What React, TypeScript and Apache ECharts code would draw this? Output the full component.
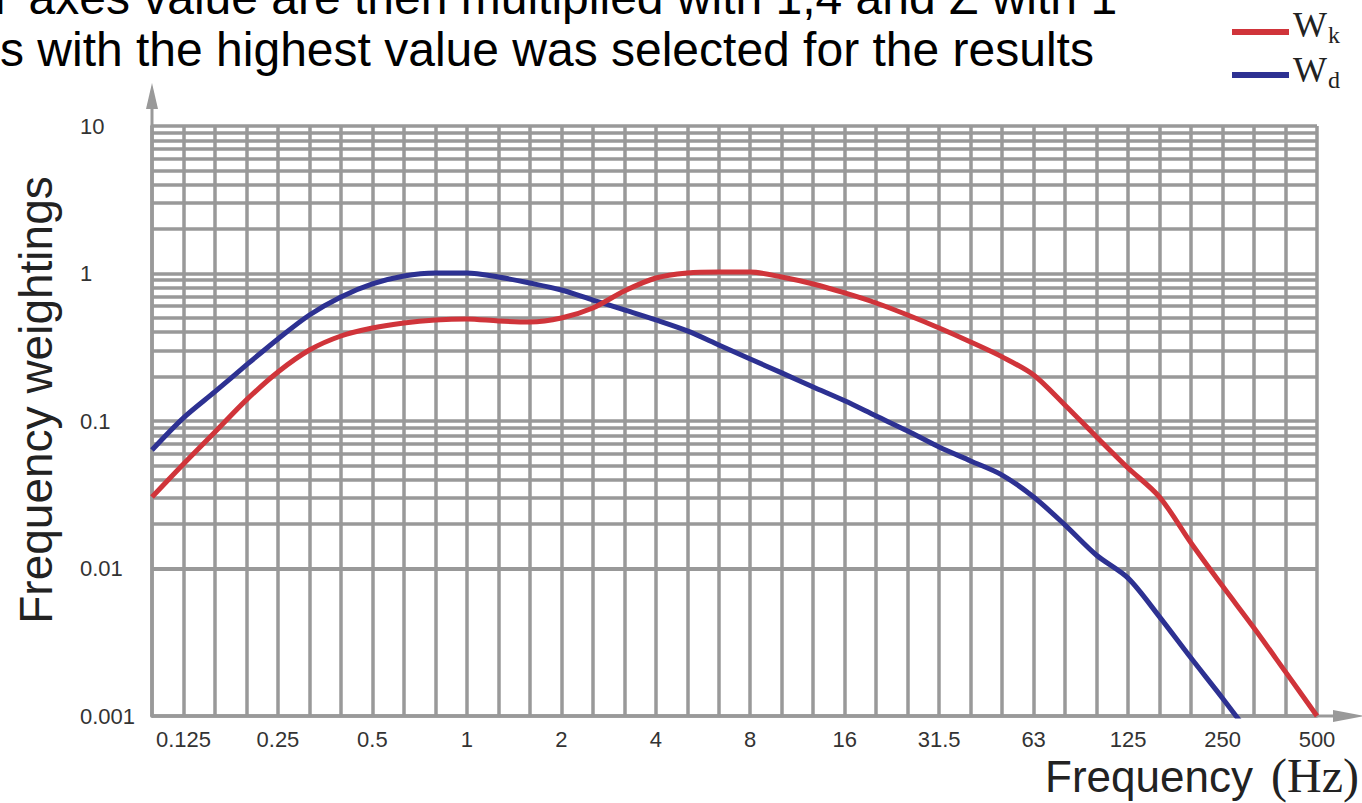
import React, { useEffect, useRef } from "react";
import * as echarts from "echarts";

// 1/3-octave band centre frequencies (Hz)
const bands = ["0.1","0.125","0.16","0.2","0.25","0.315","0.4","0.5","0.63","0.8","1","1.25","1.6","2","2.5","3.15","4","5","6.3","8","10","12.5","16","20","25","31.5","40","50","63","80","100","125","160","200","250","315","400","500"];

// Frequency weighting Wk (red)
const wk = [0.0305, 0.0511, 0.0842, 0.139, 0.215, 0.303, 0.377, 0.427, 0.462, 0.484, 0.492, 0.476, 0.469, 0.499, 0.584, 0.761, 0.932, 1.008, 1.024, 1.024, 0.947, 0.849, 0.738, 0.631, 0.523, 0.427, 0.343, 0.272, 0.205, 0.128, 0.078, 0.048, 0.0305, 0.0149, 0.0076, 0.00395, 0.00199, 0.001];

// Frequency weighting Wd (blue)
const wd = [0.0636, 0.105, 0.158, 0.24, 0.36, 0.523, 0.693, 0.849, 0.962, 1.008, 1.008, 0.947, 0.862, 0.773, 0.661, 0.566, 0.484, 0.408, 0.328, 0.263, 0.212, 0.17, 0.137, 0.108, 0.0855, 0.0666, 0.0536, 0.043, 0.0305, 0.0197, 0.0123, 0.0086, 0.0047, 0.00247, 0.00132, 0.00069, null, null];

const yTickLabels = ["0.001", "0.01", "0.1", "1", "10"];
const minorDecades = [0.001, 0.01, 0.1, 1];
const minorMultipliers = [2, 3, 4, 5, 6, 7, 8, 9];

const headerLine1 = "Y axes value are then multiplied with 1,4 and Z with 1";
const headerLine2 = "s with the highest value was selected for the results";

const SANS = "'Liberation Sans', Arial, Helvetica, sans-serif";
const SERIF = "'Liberation Serif', 'Times New Roman', serif";
const GRID = "#999999";
const RED = "#d0343a";
const BLUE = "#2d3192";
const GW = 3.5;

// central baseline offset helper
const cy = (baseline: number, fs: number, k = 0.347) => baseline - k * fs;

export default function App() {
  const ref = useRef<HTMLDivElement>(null);

  useEffect(() => {
    if (!ref.current) return;
    const chart = echarts.init(ref.current, undefined, { renderer: "svg" });

    const minorValues: number[] = [];
    minorDecades.forEach((d) => minorMultipliers.forEach((m) => minorValues.push(+(m * d).toPrecision(3))));

    const option: any = {
      animation: false,
      backgroundColor: "#ffffff",
      grid: { left: 152, right: 45, top: 126, bottom: 87, containLabel: false },
      xAxis: {
        type: "category",
        data: bands,
        boundaryGap: false,
        axisLine: { show: true, lineStyle: { color: GRID, width: GW } },
        axisTick: { show: false },
        axisLabel: {
          interval: (i: number) => i % 3 === 1,
          margin: 12,
          fontSize: 22,
          color: "#333",
          fontFamily: SANS,
        },
        splitLine: { show: true, interval: 0, lineStyle: { color: GRID, width: GW } },
      },
      yAxis: {
        type: "log",
        logBase: 10,
        min: 0.001,
        max: 10,
        axisLine: { show: true, lineStyle: { color: GRID, width: GW } },
        axisTick: { show: false },
        axisLabel: {
          align: "left",
          margin: 72,
          fontSize: 22,
          color: "#333",
          fontFamily: SANS,
          formatter: (v: number) => {
            const idx = Math.round(Math.log10(v)) + 3;
            return yTickLabels[idx] ?? String(v);
          },
        },
        splitLine: { show: true, lineStyle: { color: GRID, width: GW } },
      },
      series: [
        {
          type: "line",
          data: [],
          silent: true,
          z: 1,
          markLine: {
            silent: true,
            symbol: ["none", "none"],
            label: { show: false },
            emphasis: { disabled: true },
            lineStyle: { color: GRID, width: GW, type: "solid" },
            data: minorValues.map((v) => ({ yAxis: v })),
          },
        },
        {
          name: "Wd",
          type: "line",
          data: wd,
          smooth: 0.3,
          symbol: "none",
          z: 5,
          lineStyle: { color: BLUE, width: 5 },
          emphasis: { disabled: true },
        },
        {
          name: "Wk",
          type: "line",
          data: wk,
          smooth: 0.3,
          symbol: "none",
          z: 6,
          lineStyle: { color: RED, width: 5 },
          emphasis: { disabled: true },
        },
      ],
      graphic: [
        // header text (cut slide text)
        { type: "text", x: -16, y: cy(14, 48), style: { text: headerLine1, font: `48px ${SANS}`, fill: "#000", textAlign: "left", textVerticalAlign: "middle" } },
        { type: "text", x: 0, y: cy(66, 48), style: { text: headerLine2, font: `48px ${SANS}`, fill: "#000", textAlign: "left", textVerticalAlign: "middle" } },
        // y-axis extension with arrow
        { type: "line", shape: { x1: 152, y1: 127, x2: 152, y2: 100 }, style: { stroke: GRID, lineWidth: 3 } },
        { type: "polygon", shape: { points: [[146, 109], [152, 83], [158, 109]] }, style: { fill: GRID } },
        // x-axis extension with arrow
        { type: "line", shape: { x1: 1316, y1: 716, x2: 1340, y2: 716 }, style: { stroke: GRID, lineWidth: 3 } },
        { type: "polygon", shape: { points: [[1333, 710], [1364, 716], [1333, 722]] }, style: { fill: GRID } },
        // axis titles
        { type: "text", x: 36, y: 400, rotation: Math.PI / 2, style: { text: "Frequency weightings", font: `46px ${SANS}`, fill: "#222", textAlign: "center", textVerticalAlign: "middle" } },
        { type: "text", x: 1045, y: cy(792, 44), style: { text: "Frequency", font: `44px ${SANS}`, fill: "#222", textAlign: "left", textVerticalAlign: "middle" } },
        { type: "text", x: 1359, y: cy(792, 48, 0.338), style: { text: "(Hz)", font: `48px ${SERIF}`, fill: "#222", textAlign: "right", textVerticalAlign: "middle" } },
        // legend
        { type: "line", shape: { x1: 1232, y1: 32, x2: 1289, y2: 32 }, style: { stroke: RED, lineWidth: 6 } },
        { type: "line", shape: { x1: 1232, y1: 75, x2: 1289, y2: 75 }, style: { stroke: BLUE, lineWidth: 6 } },
        { type: "text", x: 1293, y: cy(37, 36, 0.338), style: { text: "W", font: `36px ${SERIF}`, fill: "#222", textAlign: "left", textVerticalAlign: "middle" } },
        { type: "text", x: 1328, y: cy(43, 24, 0.338), style: { text: "k", font: `24px ${SERIF}`, fill: "#222", textAlign: "left", textVerticalAlign: "middle" } },
        { type: "text", x: 1293, y: cy(82, 36, 0.338), style: { text: "W", font: `36px ${SERIF}`, fill: "#222", textAlign: "left", textVerticalAlign: "middle" } },
        { type: "text", x: 1328, y: cy(88, 24, 0.338), style: { text: "d", font: `24px ${SERIF}`, fill: "#222", textAlign: "left", textVerticalAlign: "middle" } },
      ],
    };

    chart.setOption(option);
    return () => chart.dispose();
  }, []);

  return (
    <div
      ref={ref}
      style={{ position: "absolute", left: 0, top: 0, width: 1362, height: 803, background: "#fff" }}
    />
  );
}
